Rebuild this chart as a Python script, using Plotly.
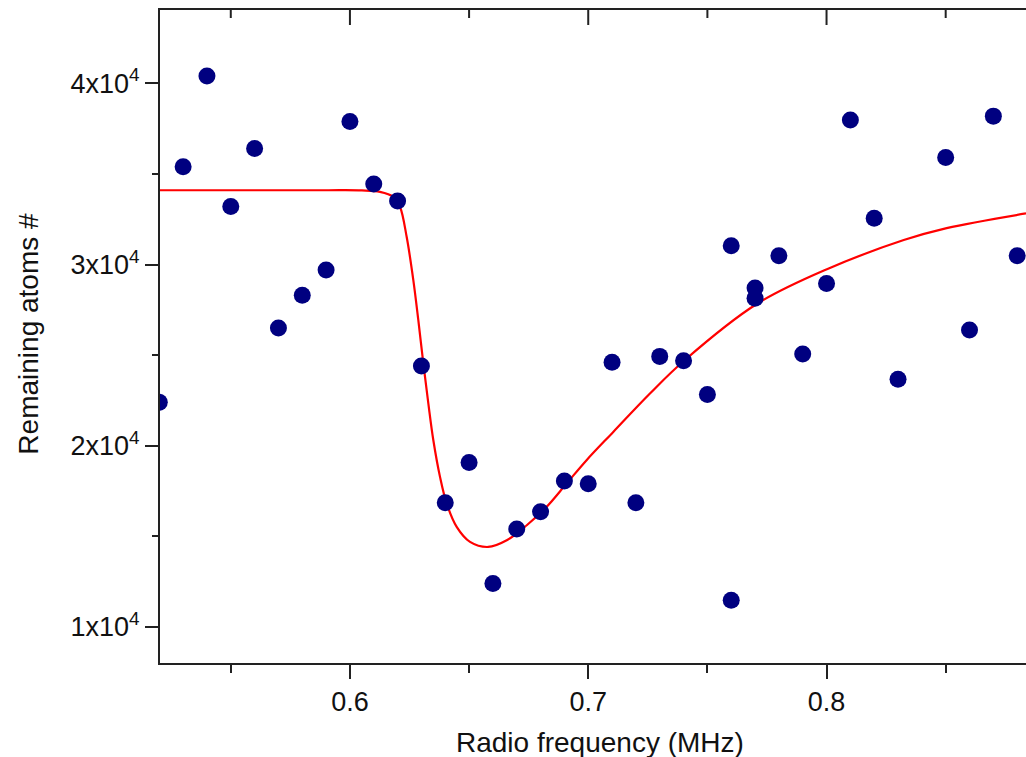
import plotly.graph_objects as go

# ---- data ----
freq_mhz = [0.52, 0.53, 0.54, 0.55, 0.56, 0.57, 0.58, 0.59, 0.60, 0.61,
            0.62, 0.63, 0.64, 0.65, 0.66, 0.67, 0.68, 0.69, 0.70, 0.71,
            0.72, 0.73, 0.74, 0.75, 0.76, 0.76, 0.77, 0.77, 0.78, 0.79,
            0.80, 0.81, 0.82, 0.83, 0.85, 0.86, 0.87, 0.88]
remaining_atoms = [22400, 35400, 40400, 33200, 36400, 26500, 28300, 29700, 37900, 34450,
                   33500, 24400, 16850, 19070, 12400, 15400, 16350, 18050, 17900, 24600,
                   16850, 24930, 24690, 22820, 31040, 11470, 28710, 28140, 30480, 25060,
                   28950, 37980, 32560, 23670, 35910, 26380, 38190, 30480]

# fitted curve
fit_freq = [0.5203, 0.560, 0.590, 0.6050, 0.6126, 0.6182, 0.6210, 0.6238, 0.6266, 0.6287,
            0.6308, 0.6329, 0.6350, 0.6378, 0.6406, 0.6448, 0.6504, 0.6580, 0.6658, 0.6742,
            0.6825, 0.6909, 0.6993, 0.7105, 0.7259, 0.7402, 0.7707, 0.8009, 0.8324, 0.8504,
            0.8837]
fit_atoms = [34100, 34100, 34100, 34090, 34010, 33740, 33190, 31530, 29140, 26930,
             24540, 22330, 20300, 18280, 16810, 15520, 14690, 14410, 14780, 15610,
             16620, 17910, 19200, 20760, 22880, 24690, 27820, 29780, 31350, 32010,
             32820]

x_tick_vals = [0.6, 0.7, 0.8]
x_tick_text = ["0.6", "0.7", "0.8"]
x_minor_vals = [0.55, 0.65, 0.75, 0.85]
y_tick_vals = [10000, 20000, 30000, 40000]
y_tick_text = ["1x10<sup>4</sup>", "2x10<sup>4</sup>", "3x10<sup>4</sup>", "4x10<sup>4</sup>"]
y_minor_vals = [15000, 25000, 35000]

x_range = [0.5203, 0.8837]
y_range = [8006, 44048]

FONT = "Liberation Sans, Arial, sans-serif"
AXC = "#222222"

fig = go.Figure()
fig.add_trace(go.Scatter(
    x=fit_freq, y=fit_atoms, mode="lines",
    line=dict(color="#ff0000", width=2.2, shape="spline", smoothing=1.0),
    showlegend=False, hoverinfo="skip"))
fig.add_trace(go.Scatter(
    x=freq_mhz, y=remaining_atoms, mode="markers",
    marker=dict(color="#000080", size=17, line=dict(width=0)),
    showlegend=False))

# inward-pointing ticks on the top frame edge (major 15 px, minor 8 px)
top_ticks = [(v, 15) for v in x_tick_vals] + [(v, 8) for v in x_minor_vals]
shapes = [dict(type="line", xref="x", yref="paper", ysizemode="pixel", yanchor=1,
               x0=v, x1=v, y0=0, y1=-ln, line=dict(color=AXC, width=2), layer="above")
          for v, ln in top_ticks]

fig.update_layout(
    width=1026, height=757,
    margin=dict(l=160, r=0, t=10, b=94),
    paper_bgcolor="white", plot_bgcolor="white",
    font=dict(family=FONT, size=27, color="#111111"),
    shapes=shapes,
    xaxis=dict(
        range=x_range, showgrid=False, zeroline=False,
        showline=True, linecolor=AXC, linewidth=2, mirror=True,
        ticks="outside", ticklen=14, tickwidth=2, tickcolor=AXC,
        tickmode="array", tickvals=x_tick_vals, ticktext=x_tick_text,
        tickfont=dict(size=27, family=FONT),
        minor=dict(ticks="outside", ticklen=8, tickwidth=2, tickcolor=AXC,
                   tickmode="array", tickvals=x_minor_vals),
    ),
    yaxis=dict(
        range=y_range, showgrid=False, zeroline=False,
        showline=True, linecolor=AXC, linewidth=2,
        ticks="outside", ticklen=13, tickwidth=2, tickcolor=AXC,
        tickmode="array", tickvals=y_tick_vals, ticktext=y_tick_text,
        tickfont=dict(size=27, family=FONT),
        minor=dict(ticks="outside", ticklen=6, tickwidth=2, tickcolor=AXC,
                   tickmode="array", tickvals=y_minor_vals),
    ),
    annotations=[
        dict(text="Radio frequency (MHz)", xref="paper", yref="paper",
             x=(600 - 160) / 866, y=(662.7 - 742) / 652.7,
             xanchor="center", yanchor="middle", showarrow=False,
             font=dict(size=28, family=FONT, color="#111111")),
        dict(text="Remaining atoms #", xref="paper", yref="paper",
             x=(28.5 - 160) / 866, y=(662.7 - 334) / 652.7, textangle=-90,
             xanchor="center", yanchor="middle", showarrow=False,
             font=dict(size=28, family=FONT, color="#111111")),
    ],
)

fig.write_html("out.html")
